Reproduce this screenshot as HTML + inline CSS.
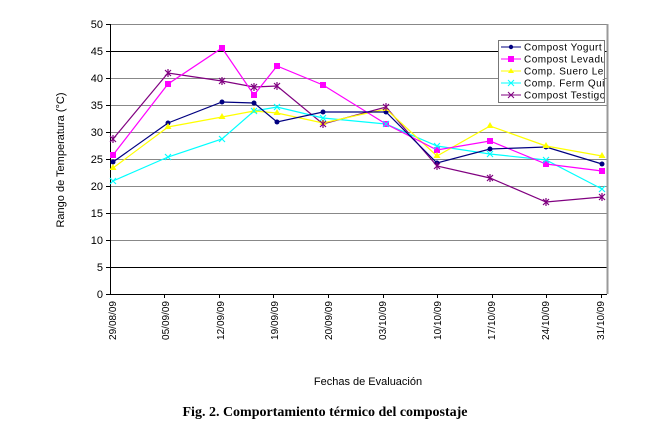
<!DOCTYPE html>
<html><head><meta charset="utf-8"><style>
body{margin:0;background:#fff;width:656px;height:434px;overflow:hidden}
svg{display:block}
</style></head><body>
<svg width="656" height="434" xmlns="http://www.w3.org/2000/svg" font-family="Liberation Sans, Arial, sans-serif">
<g stroke="#888" stroke-width="1">
<line x1="110" y1="24.5" x2="607" y2="24.5"/>
<line x1="110" y1="78.5" x2="607" y2="78.5"/>
<line x1="110" y1="105.5" x2="607" y2="105.5"/>
<line x1="110" y1="132.5" x2="607" y2="132.5"/>
<line x1="110" y1="159.5" x2="607" y2="159.5"/>
<line x1="110" y1="186.5" x2="607" y2="186.5"/>
<line x1="110" y1="213.5" x2="607" y2="213.5"/>
<line x1="110" y1="240.5" x2="607" y2="240.5"/>
</g>
<line x1="110" y1="51.5" x2="607" y2="51.5" stroke="#000"/>
<line x1="110" y1="267.5" x2="607" y2="267.5" stroke="#000"/>
<line x1="607.5" y1="24" x2="607.5" y2="294" stroke="#999" stroke-width="2"/>
<line x1="110.5" y1="24" x2="110.5" y2="294" stroke="#000"/>
<line x1="110" y1="294.5" x2="607" y2="294.5" stroke="#000"/>
<g stroke="#000">
<line x1="106" y1="24.5" x2="110" y2="24.5"/><line x1="106" y1="51.5" x2="110" y2="51.5"/><line x1="106" y1="78.5" x2="110" y2="78.5"/><line x1="106" y1="105.5" x2="110" y2="105.5"/><line x1="106" y1="132.5" x2="110" y2="132.5"/><line x1="106" y1="159.5" x2="110" y2="159.5"/><line x1="106" y1="186.5" x2="110" y2="186.5"/><line x1="106" y1="213.5" x2="110" y2="213.5"/><line x1="106" y1="240.5" x2="110" y2="240.5"/><line x1="106" y1="267.5" x2="110" y2="267.5"/><line x1="106" y1="294.5" x2="110" y2="294.5"/>
<line x1="164.5" y1="294" x2="164.5" y2="298"/><line x1="219.5" y1="294" x2="219.5" y2="298"/><line x1="273.5" y1="294" x2="273.5" y2="298"/><line x1="328.5" y1="294" x2="328.5" y2="298"/><line x1="383.5" y1="294" x2="383.5" y2="298"/><line x1="437.5" y1="294" x2="437.5" y2="298"/><line x1="492.5" y1="294" x2="492.5" y2="298"/><line x1="546.5" y1="294" x2="546.5" y2="298"/><line x1="601.5" y1="294" x2="601.5" y2="298"/>
</g>
<g font-size="11" text-anchor="end" fill="#000">
<text x="103" y="28">50</text><text x="103" y="55">45</text><text x="103" y="82">40</text><text x="103" y="109">35</text><text x="103" y="136">30</text><text x="103" y="163">25</text><text x="103" y="190">20</text><text x="103" y="217">15</text><text x="103" y="244">10</text><text x="103" y="271">5</text><text x="103" y="298">0</text>
</g>
<g font-size="10" text-anchor="end" fill="#000">
<text transform="translate(116,301) rotate(-90)">29/08/09</text>
<text transform="translate(169,301) rotate(-90)">05/09/09</text>
<text transform="translate(224,301) rotate(-90)">12/09/09</text>
<text transform="translate(278,301) rotate(-90)">19/09/09</text>
<text transform="translate(332,301) rotate(-90)">20/09/09</text>
<text transform="translate(386,301) rotate(-90)">03/10/09</text>
<text transform="translate(441,301) rotate(-90)">10/10/09</text>
<text transform="translate(495,301) rotate(-90)">17/10/09</text>
<text transform="translate(549,301) rotate(-90)">24/10/09</text>
<text transform="translate(604,301) rotate(-90)">31/10/09</text>
</g>
<text transform="translate(64,160) rotate(-90)" font-size="11" text-anchor="middle">Rango de Temperatura (°C)</text>
<text x="368" y="385" font-size="11" text-anchor="middle">Fechas de Evaluación</text>
<text x="325" y="416" font-size="14" font-weight="bold" text-anchor="middle" font-family="Liberation Serif, serif">Fig. 2. Comportamiento térmico del compostaje</text>

<polyline fill="none" stroke="#800080" stroke-width="1.2" points="113,139 168,73 222,81 254,87 277,86 323,124 386,107 437,166 490,178 546,202 602,197"/>
<polyline fill="none" stroke="#00ffff" stroke-width="1.2" points="113,181 168,157 222,139 254,111 277,107 323,118 386,124 437,146 490,154 546,160 602,189"/>
<polyline fill="none" stroke="#ffff00" stroke-width="1.2" points="113,168 168,127 222,117 254,111 277,113 323,123 386,109 437,156 490,126 546,146 602,156"/>
<polyline fill="none" stroke="#ff00ff" stroke-width="1.2" points="113,155 168,84 222,48 254,95 277,66 323,85 386,124 437,150 490,141 546,164 602,171"/>
<polyline fill="none" stroke="#000080" stroke-width="1.2" points="113,162 168,123 222,102 254,103 277,122 323,112 386,112 437,163 490,149 546,147 602,164"/>
<g fill="#000080">
<circle cx="113" cy="162" r="2.5"/><circle cx="168" cy="123" r="2.5"/><circle cx="222" cy="102" r="2.5"/><circle cx="254" cy="103" r="2.5"/><circle cx="277" cy="122" r="2.5"/><circle cx="323" cy="112" r="2.5"/><circle cx="386" cy="112" r="2.5"/><circle cx="437" cy="163" r="2.5"/><circle cx="490" cy="149" r="2.5"/><circle cx="546" cy="147" r="2.5"/><circle cx="602" cy="164" r="2.5"/>
</g>
<g fill="#ff00ff">
<rect x="110" y="152" width="6" height="6"/><rect x="165" y="81" width="6" height="6"/><rect x="219" y="45" width="6" height="6"/><rect x="251" y="92" width="6" height="6"/><rect x="274" y="63" width="6" height="6"/><rect x="320" y="82" width="6" height="6"/><rect x="383" y="121" width="6" height="6"/><rect x="434" y="147" width="6" height="6"/><rect x="487" y="138" width="6" height="6"/><rect x="543" y="161" width="6" height="6"/><rect x="599" y="168" width="6" height="6"/>
</g>
<g fill="#ffff00">
<path d="M113,164l3.5,6h-7z M168,123l3.5,6h-7z M222,113l3.5,6h-7z M254,107l3.5,6h-7z M277,109l3.5,6h-7z M323,119l3.5,6h-7z M386,105l3.5,6h-7z M437,152l3.5,6h-7z M490,122l3.5,6h-7z M546,142l3.5,6h-7z M602,152l3.5,6h-7z"/>
</g>
<g stroke="#00ffff" stroke-width="1.2">
<path d="M110,178l6,6m0,-6l-6,6 M165,154l6,6m0,-6l-6,6 M219,136l6,6m0,-6l-6,6 M251,108l6,6m0,-6l-6,6 M274,104l6,6m0,-6l-6,6 M320,115l6,6m0,-6l-6,6 M383,121l6,6m0,-6l-6,6 M434,143l6,6m0,-6l-6,6 M487,151l6,6m0,-6l-6,6 M543,157l6,6m0,-6l-6,6 M599,186l6,6m0,-6l-6,6"/>
</g>
<g stroke="#800080" stroke-width="1.2">
<path d="M110,136l6,6m0,-6l-6,6m3,-7v8 M165,70l6,6m0,-6l-6,6m3,-7v8 M219,78l6,6m0,-6l-6,6m3,-7v8 M251,84l6,6m0,-6l-6,6m3,-7v8 M274,83l6,6m0,-6l-6,6m3,-7v8 M320,121l6,6m0,-6l-6,6m3,-7v8 M383,104l6,6m0,-6l-6,6m3,-7v8 M434,163l6,6m0,-6l-6,6m3,-7v8 M487,175l6,6m0,-6l-6,6m3,-7v8 M543,199l6,6m0,-6l-6,6m3,-7v8 M599,194l6,6m0,-6l-6,6m3,-7v8"/>
</g>

<rect x="498.5" y="40.5" width="106" height="62" fill="#fff" stroke="#777"/>
<svg x="499" y="41" width="105" height="61" overflow="hidden">
<g font-size="10" fill="#000" letter-spacing="0.5">
<line x1="2" y1="6" x2="22" y2="6" stroke="#000080"/><circle cx="12" cy="6" r="2.2" fill="#000080"/>
<text x="25" y="9.5">Compost Yogurt</text>
<line x1="2" y1="18" x2="22" y2="18" stroke="#ff00ff"/><rect x="9" y="15" width="6" height="6" fill="#ff00ff"/>
<text x="25" y="21.5">Compost Levadura</text>
<line x1="2" y1="30" x2="22" y2="30" stroke="#ffff00"/><path d="M12,27l3,5h-6z" fill="#ffff00"/>
<text x="25" y="33.5">Comp. Suero Leche</text>
<line x1="2" y1="42" x2="22" y2="42" stroke="#00ffff"/><path d="M9,39l6,6m0,-6l-6,6" stroke="#00ffff"/>
<text x="25" y="45.5">Comp. Ferm Quinua</text>
<line x1="2" y1="54" x2="22" y2="54" stroke="#800080"/><path d="M9,51l6,6m0,-6l-6,6" stroke="#800080"/>
<text x="25" y="57.5">Compost Testigo</text>
</g>
</svg>
</svg>
</body></html>
